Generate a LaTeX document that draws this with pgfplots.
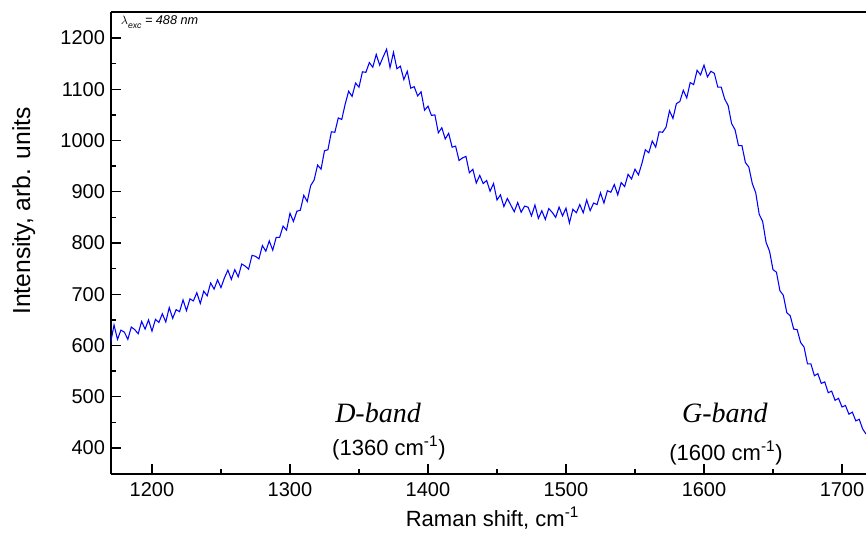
\documentclass[border=0pt]{standalone}
\usepackage{fontspec}
\setmainfont{Liberation Sans}
\newfontfamily\timesfont{Liberation Serif}
\usepackage{pgfplots}
\pgfplotsset{compat=1.18}

\begin{document}
\begin{tikzpicture}
\begin{axis}[
    scale only axis,
    width=566.25pt, height=346.5pt,
    xmin=1170.3, xmax=1717.4,
    ymin=349.3, ymax=1250.7,
    axis x line=box,
    axis y line*=left,
    y axis line style={-},
    axis line style={line width=1pt},
    xtick pos=bottom, ytick pos=left,
    xtick={1200,1300,...,1700},
    ytick={400,500,...,1200},
    minor x tick num=1, minor y tick num=1,
    tick align=inside,
    major tick length=7.5pt, minor tick length=3.75pt,
    tick style={line width=1pt, black},
    /pgf/number format/assume math mode=true,
    /pgf/number format/set thousands separator={},
    ticklabel style={font=\fontsize{15pt}{18pt}\selectfont},
    xticklabel style={yshift=-3pt},
    yticklabel style={xshift=-1pt},
    xlabel={Raman shift, cm\textsuperscript{-1}},
    ylabel={Intensity, arb. units},
    xlabel style={font=\fontsize{16.5pt}{19pt}\selectfont, yshift=-1pt, xshift=3pt},
    ylabel style={font=\fontsize{18.5pt}{21pt}\selectfont, yshift=12pt, xshift=24pt},
    clip=true,
]
\addplot[blue, line width=0.8pt] coordinates {
(1170,605) (1172.5,640) (1175,612) (1177.5,630) (1180,626) (1182.5,612) (1185,636) (1187.5,631)
(1190,623) (1192.5,647) (1195,632) (1197.5,650) (1200,628) (1202.5,651) (1205,645) (1207.5,662)
(1210,646) (1212.5,674) (1215,653) (1217.5,670) (1220,666) (1222.5,689) (1225,668) (1227.5,691)
(1230,687) (1232.5,703) (1235,682) (1237.5,706) (1240,697) (1242.5,722) (1245,710) (1247.5,728)
(1250,713) (1252.5,732) (1255,747) (1257.5,729) (1260,748) (1262.5,734) (1265,759) (1267.5,755)
(1270,749) (1272.5,776) (1275,774) (1277.5,769) (1280,795) (1282.5,784) (1285,804) (1287.5,786)
(1290,811) (1292.5,811) (1295,833) (1297.5,825) (1300,858) (1302.5,842) (1305,862) (1307.5,864)
(1310,893) (1312.5,881) (1315,912) (1317.5,923) (1320,952) (1322.5,944) (1325,980) (1327.5,982)
(1330,1017) (1332.5,1016) (1335,1044) (1337.5,1041) (1340,1071) (1342.5,1096) (1345,1086) (1347.5,1112)
(1350,1104) (1352.5,1134) (1355,1133) (1357.5,1152) (1360,1143) (1362.5,1168) (1365,1147) (1367.5,1163)
(1370,1178) (1372.5,1142) (1375,1172) (1377.5,1140) (1380,1145) (1382.5,1119) (1385,1135) (1387.5,1102)
(1390,1105) (1392.5,1087) (1395,1095) (1397.5,1059) (1400,1067) (1402.5,1049) (1405,1050) (1407.5,1015)
(1410,1025) (1412.5,1003) (1415,1014) (1417.5,987) (1420,989) (1422.5,961) (1425,966) (1427.5,969)
(1430,937) (1432.5,944) (1435,917) (1437.5,932) (1440,916) (1442.5,922) (1445,901) (1447.5,916)
(1450,884) (1452.5,894) (1455,871) (1457.5,887) (1460,874) (1462.5,861) (1465,879) (1467.5,860)
(1470,872) (1472.5,870) (1475,853) (1477.5,874) (1480,848) (1482.5,863) (1485,846) (1487.5,867)
(1490,860) (1492.5,850) (1495,870) (1497.5,853) (1500,868) (1502.5,839) (1505,866) (1507.5,859)
(1510,875) (1512.5,859) (1515,884) (1517.5,863) (1520,878) (1522.5,875) (1525,898) (1527.5,878)
(1530,902) (1532.5,899) (1535,914) (1537.5,894) (1540,918) (1542.5,910) (1545,934) (1547.5,925)
(1550,944) (1552.5,933) (1555,955) (1557.5,982) (1560,976) (1562.5,999) (1565,987) (1567.5,1017)
(1570,1016) (1572.5,1026) (1575,1058) (1577.5,1043) (1580,1072) (1582.5,1076) (1585,1098) (1587.5,1083)
(1590,1113) (1592.5,1109) (1595,1137) (1597.5,1128) (1600,1147) (1602.5,1124) (1605,1135) (1607.5,1131)
(1610,1104) (1612.5,1104) (1615,1081) (1617.5,1068) (1620,1033) (1622.5,1021) (1625,990) (1627.5,990)
(1630,957) (1632.5,948) (1635,916) (1637.5,898) (1640,856) (1642.5,842) (1645,801) (1647.5,784)
(1650,748) (1652.5,743) (1655,707) (1657.5,698) (1660,664) (1662.5,658) (1665,632) (1667.5,631)
(1670,606) (1672.5,597) (1675,564) (1677.5,564) (1680,541) (1682.5,545) (1685,526) (1687.5,529)
(1690,508) (1692.5,511) (1695,493) (1697.5,497) (1700,480) (1702.5,483) (1705,466) (1707.5,470)
(1710,453) (1712.5,456) (1715,437) (1717.5,427)
};
\node[anchor=west, font=\fontsize{9.5pt}{11pt}\selectfont\itshape] at (axis cs:1174,1231)
    {$\lambda$\raisebox{-0.5ex}{\fontsize{6.5pt}{7pt}\selectfont exc} = 488 nm};
\node[font=\timesfont\itshape\fontsize{21pt}{24pt}\selectfont] at (axis cs:1363.8,468) {D-band};
\node[font=\fontsize{16.5pt}{19pt}\selectfont] at (axis cs:1371.7,400) {(1360 cm\textsuperscript{-1})};
\node[font=\timesfont\itshape\fontsize{21pt}{24pt}\selectfont] at (axis cs:1615.2,468) {G-band};
\node[font=\fontsize{16.5pt}{19pt}\selectfont] at (axis cs:1616,390) {(1600 cm\textsuperscript{-1})};
\end{axis}
\pgfresetboundingbox
\useasboundingbox (-83.25pt,-44.25pt) rectangle (566.25pt,355.5pt);
\end{tikzpicture}
\end{document}
